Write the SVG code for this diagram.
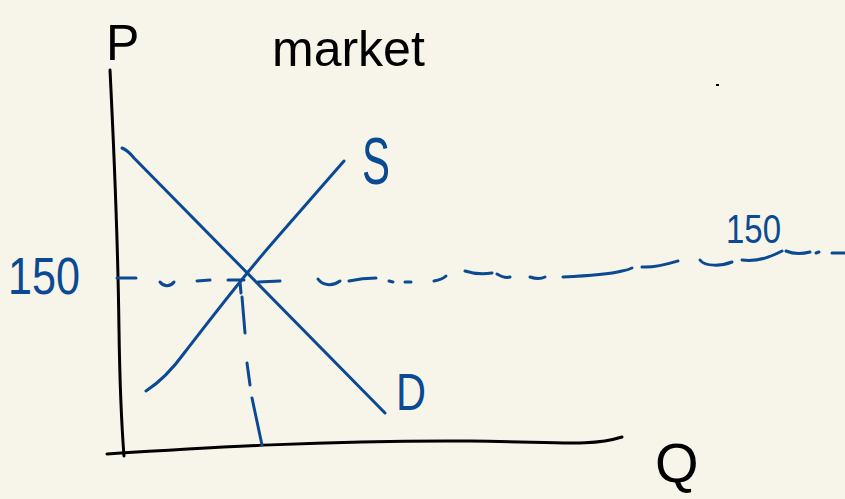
<svg xmlns="http://www.w3.org/2000/svg" width="845" height="499" viewBox="0 0 845 499">
<style>
.ink{fill:none;stroke:#000;stroke-width:3;stroke-linecap:round;stroke-linejoin:round}
.blue{fill:none;stroke:#0B4A93;stroke-width:3;stroke-linecap:round;stroke-linejoin:round}
.tb{font-family:"Liberation Sans",Arial,sans-serif;fill:#000}
.tl{font-family:"Liberation Sans",Arial,sans-serif;fill:#0B4A93}
</style>
<rect width="845" height="499" fill="#F7F5EA"/>
<g id="axes">
<path class="ink" d="M110,70 C114,150 118,250 119,330 C120,400 122,430 124,456"/>
<path class="ink" d="M107,454 C200,448 330,440 470,441 C560,442 590,447 622,437"/>
</g>
<g id="curves">
<path id="demand" class="blue" d="M122,148 C127,150 130,153 134,158 L385,413"/>
<path id="supply" class="blue" d="M146,391 C160,382 172,370 185,352 C210,320 240,280 275,240 L344,161"/>
</g>
<g id="connectors">
<g id="price-line" class="blue">
<path d="M117,278 L136,278"/>
<path d="M160,282 C164,287 170,287 174,282"/>
<path d="M197,281 L210,280"/>
<path d="M228,280 L244,280"/>
<path d="M258,282 L280,281"/>
<path d="M318,279 C322,285 332,287 340,281"/>
<path d="M349,281 C358,279 368,278 376,278"/>
<path d="M389,281 L393,282"/>
<path d="M405,282 L411,282"/>
<path d="M434,281 C440,280 444,278 446,276"/>
<path d="M465,271 C474,274 484,274 492,273"/>
<path d="M497,274 C502,277 507,278 510,277"/>
<path d="M530,277 C536,279 541,279 545,277"/>
<path d="M563,277 C585,276 610,274 622,271 C628,270 630,269 632,268"/>
<path d="M642,267 C655,268 668,264 678,261"/>
<path d="M700,260 C705,267 722,266 732,262"/>
<path d="M742,260 C760,262 772,256 782,251"/>
<path d="M786,251 C793,254 802,254 810,252"/>
<path d="M816,253 L819,252"/>
<path d="M832,253 L845,253"/>
</g>
<g id="quantity-line" class="blue">
<path d="M240,282 L241,293"/>
<path d="M242,297 L245,333"/>
<path d="M247,363 L250,385"/>
<path d="M252,398 L262,445"/>
</g>
</g>
<g id="labels">
<text id="label-p" class="tb" x="106" y="60" font-size="50">P</text>
<text id="label-market" class="tb" x="272" y="66" font-size="50">market</text>
<text id="label-q" class="tb" x="655" y="482" font-size="56">Q</text>
<text id="label-s" class="tl" x="362" y="184" font-size="66" textLength="28" lengthAdjust="spacingAndGlyphs">S</text>
<text id="label-d" class="tl" x="396" y="410" font-size="52" textLength="30" lengthAdjust="spacingAndGlyphs">D</text>
<text id="label-150-left" class="tl" x="8" y="294" font-size="52" textLength="72" lengthAdjust="spacingAndGlyphs">150</text>
<text id="label-150-right" class="tl" x="726" y="243" font-size="40" textLength="55" lengthAdjust="spacingAndGlyphs">150</text>
<rect id="dot" x="716" y="84" width="3" height="2" fill="#000"/>
</g>
</svg>
